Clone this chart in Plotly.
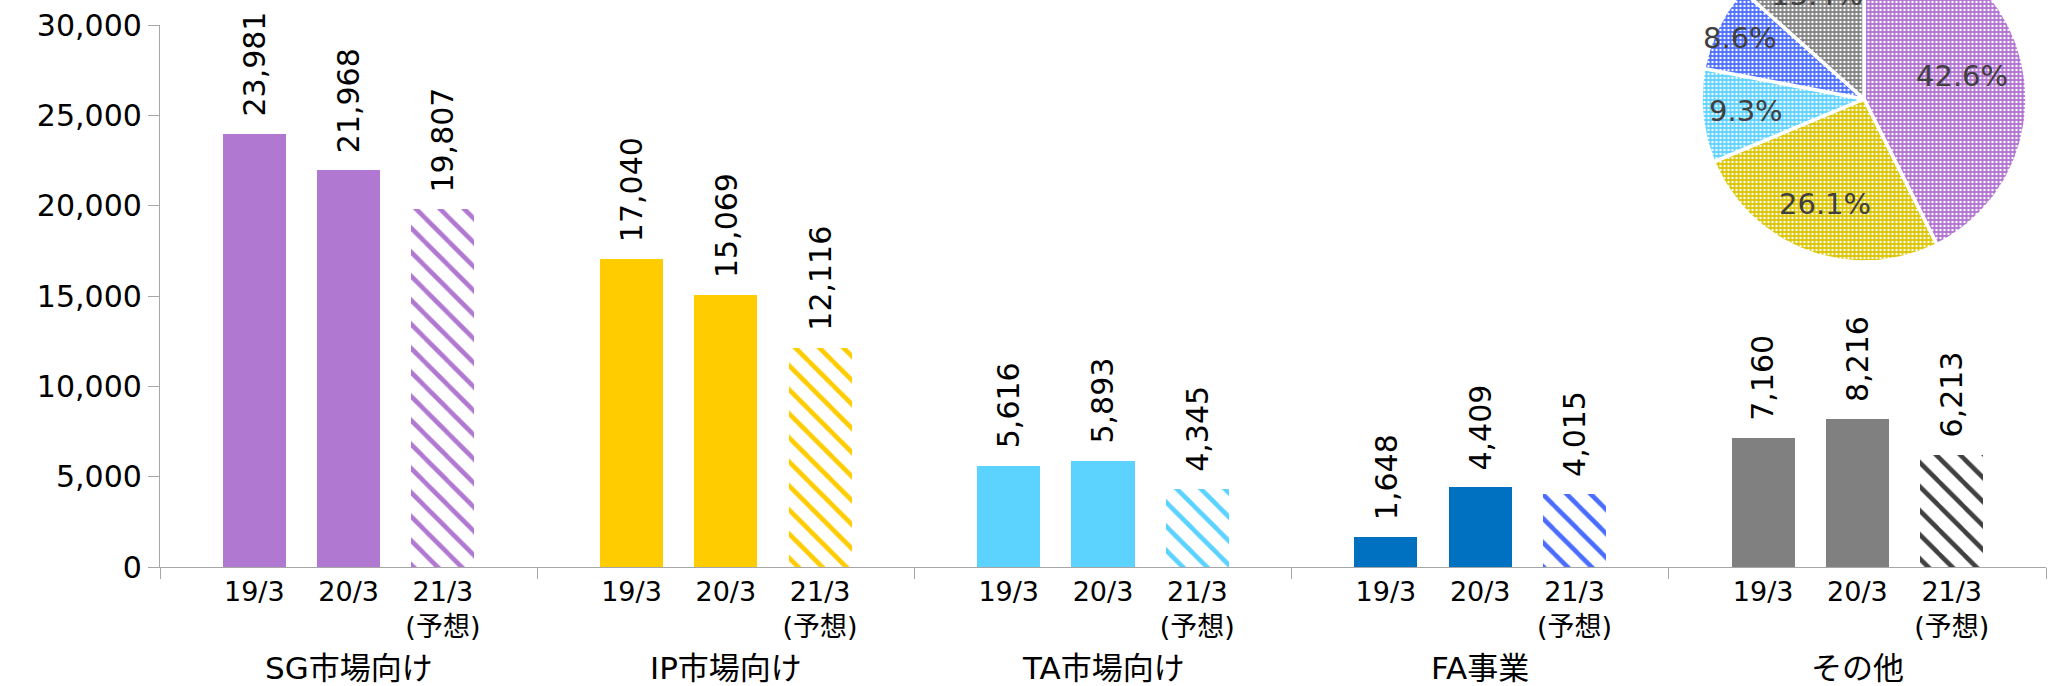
import math
import plotly.graph_objects as go

# ---------------- data ----------------
groups = ["SG市場向け", "IP市場向け", "TA市場向け", "FA事業", "その他"]
periods = ["19/3", "20/3", "21/3<br>(予想)"]
sales_sg = [23981, 21968, 19807]
sales_ip = [17040, 15069, 12116]
sales_ta = [5616, 5893, 4345]
sales_fa = [1648, 4409, 4015]
sales_other = [7160, 8216, 6213]
forecast = [False, False, True]
y_ticks = [0, 5000, 10000, 15000, 20000, 25000, 30000]
pie_shares = [42.6, 26.1, 9.3, 8.6, 13.4]   # 21/3 forecast composition, %

# ---------------- styles ----------------
solid_colors = ["#b178d1", "#ffcc00", "#5bd2ff", "#0070c0", "#808080"]
hatch_colors = ["#b178d1", "#ffcc00", "#5bd2ff", "#4a6cff", "#404040"]
pie_colors = ["#b070d0", "#dcc400", "#5bd2ff", "#4a6cff", "#808080"]
pie_label_r = [0.62, 0.69, 0.73, 0.85, 0.70]
FONT = "DejaVu Sans, Noto Sans CJK JP, sans-serif"
AXIS_COLOR = "#a6a6a6"

series = [sales_sg, sales_ip, sales_ta, sales_fa, sales_other]
slots_per_group = 4

# plot area geometry
W, H = 2053, 686
ml, mr, mt, mb = 160, 7, 0, 119
plot_h = H - mt - mb
plot_w = W - ml - mr
bar_top_px = 25
bar_dom_top = 1 - bar_top_px / plot_h

# pie axes in equal units
pie_cx, pie_cy, pie_r = 1864, 99, 163
xd0, xd1 = 0.75, 1.0
yd0, yd1 = 0.5, 1.0
x_left_px = ml + xd0 * plot_w
x_right_px = ml + xd1 * plot_w
y_top_px = mt + (1 - yd1) * plot_h
y_bot_px = mt + (1 - yd0) * plot_h
x2_range = [(x_left_px - pie_cx) / pie_r, (x_right_px - pie_cx) / pie_r]
y2_range = [(pie_cy - y_bot_px) / pie_r, (pie_cy - y_top_px) / pie_r]

fig = go.Figure()
xs_all, ys_all, ticktext = [], [], []
for g, vals in enumerate(series):
    sx, sy, hx, hy = [], [], [], []
    for j, v in enumerate(vals):
        x = g * slots_per_group + j + 1
        xs_all.append(x)
        ys_all.append(v)
        ticktext.append(periods[j])
        if forecast[j]:
            hx.append(x)
            hy.append(v)
        else:
            sx.append(x)
            sy.append(v)
    fig.add_trace(go.Bar(
        x=sx, y=sy, width=0.67,
        marker=dict(color=solid_colors[g], line=dict(width=0)),
        hoverinfo="skip", showlegend=False))
    fig.add_trace(go.Bar(
        x=hx, y=hy, width=0.67,
        marker=dict(color=hatch_colors[g], line=dict(width=0),
                    pattern=dict(shape="\\", fgcolor=hatch_colors[g], bgcolor="white",
                                 size=17, solidity=0.27, fillmode="replace")),
        hoverinfo="skip", showlegend=False))

annotations = []
for x, v in zip(xs_all, ys_all):
    annotations.append(dict(
        x=x, y=v, xref="x", yref="y", text=f"{v:,}", showarrow=False,
        textangle=-90, xanchor="center", yanchor="bottom", yshift=15,
        font=dict(family=FONT, size=30, color="black")))
for g, name in enumerate(groups):
    annotations.append(dict(
        x=g * slots_per_group + 2, y=0, xref="x", yref="paper", text=name,
        showarrow=False, xanchor="center", yanchor="middle", yshift=-101,
        font=dict(family=FONT, size=31, color="black")))

# ---------------- pie (drawn on its own axes, clipped at the top) ----------------
start = 0.0
for k, share in enumerate(pie_shares):
    a0 = start / 100 * 2 * math.pi
    a1 = (start + share) / 100 * 2 * math.pi
    n = max(int(share * 4), 4)
    px = [0.0]
    py = [0.0]
    for i in range(n + 1):
        a = a0 + (a1 - a0) * i / n
        px.append(math.sin(a))
        py.append(math.cos(a))
    px.append(0.0)
    py.append(0.0)
    fig.add_trace(go.Scatter(
        x=px, y=py, xaxis="x2", yaxis="y2", mode="lines", fill="toself",
        fillcolor=pie_colors[k],
        fillpattern=dict(shape=".", fgcolor="white", bgcolor=pie_colors[k],
                         size=4, solidity=0.3, fillmode="replace"),
        line=dict(color="white", width=3.5),
        hoverinfo="skip", showlegend=False))
    mid = (start + share / 2) / 100 * 2 * math.pi
    r = pie_label_r[k]
    lx, ly = r * math.sin(mid), r * math.cos(mid)
    # keep the anchor inside the visible axis range, shift the text instead
    ly_in = min(ly, y2_range[1] - 0.01)
    annotations.append(dict(
        x=lx, y=ly_in, xref="x2", yref="y2", yshift=(ly - ly_in) * pie_r,
        text=f"{share:.1f}%", showarrow=False, xanchor="center", yanchor="middle",
        font=dict(family=FONT, size=29, color="#404040")))
    start += share

fig.update_layout(
    width=W, height=H,
    margin=dict(l=ml, r=mr, t=mt, b=mb, pad=0, autoexpand=False),
    paper_bgcolor="white", plot_bgcolor="rgba(0,0,0,0)",
    font=dict(family=FONT, color="black"),
    barmode="overlay", bargap=0,
    xaxis=dict(
        range=[0, len(groups) * slots_per_group], domain=[0, 1],
        tickmode="array", tickvals=xs_all, ticktext=ticktext,
        ticks="", tickfont=dict(family=FONT, size=27, color="black"),
        showline=True, linecolor=AXIS_COLOR, linewidth=1.3,
        showgrid=False, zeroline=False, fixedrange=True, automargin=False,
        minor=dict(ticks="outside", ticklen=11, tickcolor=AXIS_COLOR,
                   tickwidth=1.3, dtick=slots_per_group, tick0=0, showgrid=False),
        anchor="y",
    ),
    yaxis=dict(
        range=[0, 30000], domain=[0, bar_dom_top],
        tickmode="array", tickvals=y_ticks, tickformat=",",
        ticks="outside", ticklen=11, tickcolor=AXIS_COLOR, tickwidth=1.3,
        tickfont=dict(family=FONT, size=30, color="black"),
        showline=True, linecolor=AXIS_COLOR, linewidth=1.3,
        showgrid=False, zeroline=False, fixedrange=True, automargin=False,
        anchor="x",
    ),
    xaxis2=dict(domain=[xd0, xd1], range=x2_range, visible=False,
                fixedrange=True, anchor="y2"),
    yaxis2=dict(domain=[yd0, yd1], range=y2_range, visible=False,
                fixedrange=True, anchor="x2"),
    annotations=annotations,
)

fig.write_html("out.html",
               config={"displayModeBar": False},
               post_script="document.body.style.margin='0';document.body.style.overflow='hidden';")
